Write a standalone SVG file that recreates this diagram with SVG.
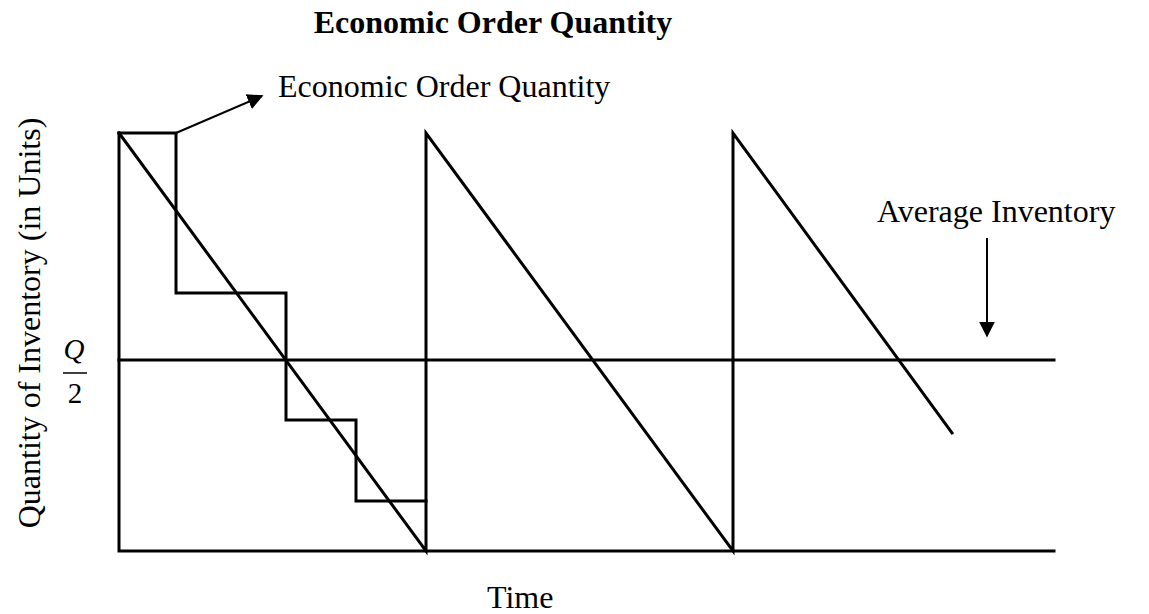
<svg xmlns="http://www.w3.org/2000/svg" width="1149" height="614" viewBox="0 0 1149 614">
<style>
.ln{stroke:#000;stroke-width:3;fill:none;stroke-linecap:square}
.ar{stroke:#000;stroke-width:2;fill:none}
.t{font-family:"Liberation Serif","Times New Roman",serif;font-size:32px;fill:#000}
</style>
<defs>
<marker id="ah" viewBox="0 0 10 10" refX="9" refY="5" markerWidth="8" markerHeight="8" markerUnits="strokeWidth" orient="auto">
<path d="M0,0 L10,5 L0,10 z" fill="#000"/>
</marker>
</defs>
<rect width="1149" height="614" fill="#fff"/>
<g id="title"><text class="t" x="493" y="33" text-anchor="middle" font-weight="bold">Economic Order Quantity</text></g>
<g id="axes">
<path class="ln" d="M119,133 L119,551 L1054,551"/>
</g>
<g id="q2line"><path class="ln" d="M119,360 L1054,360"/></g>
<g id="sawtooth">
<path class="ln" d="M119,133 L426,551 L426,133 L733,551 L733,133 L952,433"/>
</g>
<g id="steps">
<path class="ln" d="M119,133 L176,133 L176,293 L286,293 L286,420 L356,420 L356,501 L426,501"/>
</g>
<g id="connectors">
<line class="ar" x1="176" y1="133" x2="262" y2="96" marker-end="url(#ah)"/>
<line class="ar" x1="987" y1="238" x2="987" y2="336" marker-end="url(#ah)"/>
</g>
<g id="eoq-label"><text class="t" x="278" y="97">Economic Order Quantity</text></g>
<g id="avg-label"><text class="t" x="877" y="222">Average Inventory</text></g>
<g id="time-label"><text class="t" x="487" y="608">Time</text></g>
<g id="y-label"><text class="t" transform="translate(40,323) rotate(-90)" text-anchor="middle">Quantity of Inventory (in Units)</text></g>
<g id="q2">
<text x="74" y="359" text-anchor="middle" font-family="'Liberation Serif',serif" font-style="italic" font-size="29">Q</text>
<line x1="63" y1="373" x2="87" y2="373" stroke="#000" stroke-width="1.5"/>
<text x="75" y="403" text-anchor="middle" font-family="'Liberation Serif',serif" font-size="29">2</text>
</g>
</svg>
